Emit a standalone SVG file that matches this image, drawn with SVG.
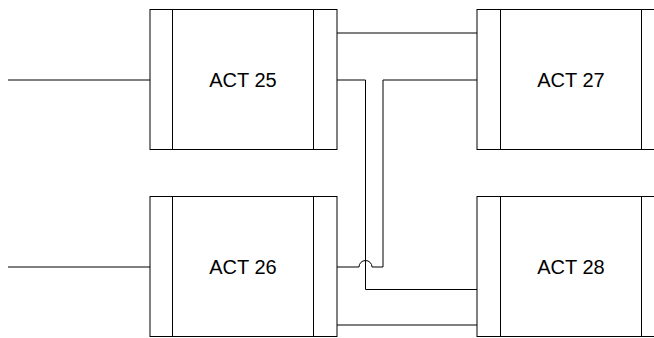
<svg xmlns="http://www.w3.org/2000/svg" width="654" height="338" viewBox="0 0 654 338">
<style>
.box{fill:#fff;stroke:#000;stroke-width:1}
.div{stroke:#000;stroke-width:1}
.lbl{font-family:"Liberation Sans",Arial,sans-serif;font-size:20px;fill:#000;text-anchor:middle}
.con{fill:none;stroke:#000;stroke-width:1}
</style>
<rect width="654" height="338" fill="#fff"/>
<g id="connectors">
<path class="con" d="M8,80 H150"/>
<path class="con" d="M8,267 H150"/>
<path class="con" d="M337,33 H477"/>
<path class="con" d="M337,80 H365.5 V289.5 H477"/>
<path class="con" d="M477,80 H383 V267 H372 A6.5,6.5 0 0 0 359,267 H337"/>
<path class="con" d="M337,325 H477"/>
</g>
<g id="act25">
<rect class="box" x="150" y="9.5" width="187" height="140"/>
<line class="div" x1="172.5" y1="9.5" x2="172.5" y2="149.5"/>
<line class="div" x1="313.5" y1="9.5" x2="313.5" y2="149.5"/>
<text class="lbl" x="243" y="86.5">ACT 25</text>
</g>
<g id="act26">
<rect class="box" x="150" y="196.5" width="187" height="140"/>
<line class="div" x1="172.5" y1="196.5" x2="172.5" y2="336.5"/>
<line class="div" x1="313.5" y1="196.5" x2="313.5" y2="336.5"/>
<text class="lbl" x="243" y="273.5">ACT 26</text>
</g>
<g id="act27">
<rect class="box" x="477" y="9.5" width="187" height="140"/>
<line class="div" x1="500.5" y1="9.5" x2="500.5" y2="149.5"/>
<line class="div" x1="641.5" y1="9.5" x2="641.5" y2="149.5"/>
<text class="lbl" x="571" y="86.5">ACT 27</text>
</g>
<g id="act28">
<rect class="box" x="477" y="196.5" width="187" height="140"/>
<line class="div" x1="500.5" y1="196.5" x2="500.5" y2="336.5"/>
<line class="div" x1="641.5" y1="196.5" x2="641.5" y2="336.5"/>
<text class="lbl" x="571" y="273.5">ACT 28</text>
</g>
</svg>
